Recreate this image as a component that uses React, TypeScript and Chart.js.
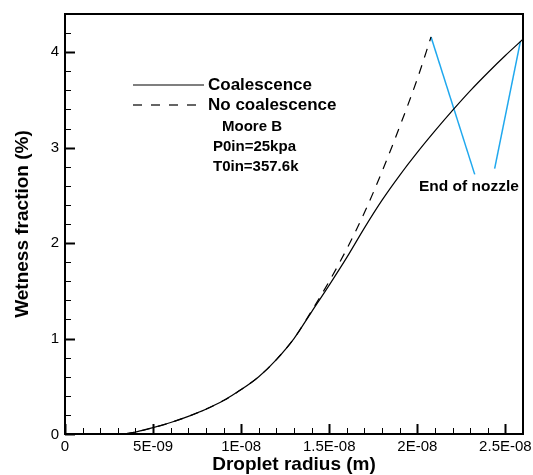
import React, { useEffect, useRef } from "react";
import { Chart, registerables } from "chart.js";

Chart.register(...registerables);

// Data (x: droplet radius in m, y: wetness fraction in %)
const coalRadius = [3.4e-9, 4e-9, 5e-9, 6e-9, 7e-9, 8e-9, 9e-9, 10e-9, 11e-9, 12e-9, 13e-9, 14e-9, 15e-9, 16e-9, 17e-9, 18e-9, 19e-9, 20e-9, 21e-9, 22e-9, 23e-9, 24e-9, 25e-9, 26e-9];
const coalWetness = [0, 0.02, 0.066, 0.12, 0.185, 0.26, 0.35, 0.465, 0.6, 0.78, 1.0, 1.28, 1.56, 1.85, 2.16, 2.45, 2.71, 2.95, 3.175, 3.39, 3.595, 3.785, 3.965, 4.135];

const noCoalRadius = [3.4e-9, 4e-9, 5e-9, 6e-9, 7e-9, 8e-9, 9e-9, 10e-9, 11e-9, 12e-9, 13e-9, 14e-9, 15e-9, 16e-9, 17e-9, 18e-9, 19e-9, 20e-9, 20.78e-9];
const noCoalWetness = [0, 0.02, 0.066, 0.12, 0.185, 0.26, 0.35, 0.465, 0.6, 0.78, 1.0, 1.29, 1.6, 1.94, 2.32, 2.75, 3.22, 3.72, 4.16];

const arrowARadius = [20.78e-9, 23.26e-9];
const arrowAWetness = [4.16, 2.72];
const arrowBRadius = [24.39e-9, 25.85e-9];
const arrowBWetness = [2.78, 4.11];

const xMajorTicks = [0, 5e-9, 1e-8, 1.5e-8, 2e-8, 2.5e-8];
const xTickLabels = ["0", "5E-09", "1E-08", "1.5E-08", "2E-08", "2.5E-08"];
const xMinorStep = 1e-9;
const yMajorTicks = [0, 1, 2, 3, 4];
const yTickLabels = ["0", "1", "2", "3", "4"];
const yMinorStep = 0.2;

const X_MAX = 2.6e-8;
const Y_MAX = 4.4;

const toPoints = (xs: number[], ys: number[]) => xs.map((x, i) => ({ x, y: ys[i] }));

const BLUE = "#1fa8ee";

const decorPlugin = {
  id: "decor",
  afterDatasetsDraw(chart: any) {
    const { ctx, chartArea } = chart;
    const xs = chart.scales.x;
    const ys = chart.scales.y;
    const { left, right, top, bottom } = chartArea;
    ctx.save();
    // frame
    ctx.strokeStyle = "#000";
    ctx.lineWidth = 2;
    ctx.strokeRect(left, top, right - left, bottom - top);

    // x ticks (inward)
    for (let i = 0; i * xMinorStep <= X_MAX + 1e-15; i++) {
      const v = i * xMinorStep;
      const px = Math.round(xs.getPixelForValue(v)) + 0.5;
      const major = i % 5 === 0;
      ctx.lineWidth = major ? 2 : 1;
      ctx.beginPath();
      ctx.moveTo(px, bottom);
      ctx.lineTo(px, bottom - (major ? 10 : 6));
      ctx.stroke();
    }
    // y ticks
    for (let i = 0; i * yMinorStep <= Y_MAX + 1e-9; i++) {
      const v = i * yMinorStep;
      const py = Math.round(ys.getPixelForValue(v)) + 0.5;
      const major = i % 5 === 0;
      ctx.lineWidth = major ? 2 : 1;
      ctx.beginPath();
      ctx.moveTo(left, py);
      ctx.lineTo(left + (major ? 10 : 6), py);
      ctx.stroke();
    }

    // tick labels
    ctx.fillStyle = "#000";
    ctx.font = "15px 'Liberation Sans', Arial, sans-serif";
    ctx.textAlign = "center";
    ctx.textBaseline = "top";
    xMajorTicks.forEach((v, i) => {
      ctx.fillText(xTickLabels[i], xs.getPixelForValue(v), bottom + 5);
    });
    ctx.textAlign = "right";
    ctx.textBaseline = "middle";
    yMajorTicks.forEach((v, i) => {
      const py = ys.getPixelForValue(v) + (v === 0 ? 1 : 0);
      ctx.fillText(yTickLabels[i], left - 6, py);
    });

    // axis titles
    ctx.font = "bold 19px 'Liberation Sans', Arial, sans-serif";
    ctx.textAlign = "center";
    ctx.textBaseline = "middle";
    ctx.fillText("Droplet radius (m)", (left + right) / 2, 465);
    ctx.save();
    ctx.translate(23, (top + bottom) / 2);
    ctx.rotate(-Math.PI / 2);
    ctx.fillText("Wetness fraction (%)", 0, 0);
    ctx.restore();

    // legend
    ctx.lineWidth = 1.2;
    ctx.beginPath();
    ctx.moveTo(133, 85);
    ctx.lineTo(204, 85);
    ctx.stroke();
    ctx.setLineDash([9, 9]);
    ctx.beginPath();
    ctx.moveTo(133, 105);
    ctx.lineTo(204, 105);
    ctx.stroke();
    ctx.setLineDash([]);

    ctx.textAlign = "left";
    ctx.font = "bold 17px 'Liberation Sans', Arial, sans-serif";
    ctx.fillText("Coalescence", 208, 85);
    ctx.fillText("No coalescence", 208, 105);
    ctx.font = "bold 15px 'Liberation Sans', Arial, sans-serif";
    ctx.fillText("Moore B", 222, 127);
    ctx.fillText("P0in=25kpa", 213, 147);
    ctx.fillText("T0in=357.6k", 213, 167);

    ctx.font = "bold 15.5px 'Liberation Sans', Arial, sans-serif";
    ctx.fillText("End of nozzle", 419, 187);
    ctx.restore();
  },
};

export default function App() {
  const ref = useRef<HTMLCanvasElement | null>(null);
  useEffect(() => {
    document.body.style.margin = "0";
    const canvas = ref.current!;
    const chart = new Chart(canvas, {
      type: "line",
      data: {
        datasets: [
          {
            label: "Coalescence",
            data: toPoints(coalRadius, coalWetness),
            borderColor: "#000",
            borderWidth: 1.2,
            pointRadius: 0,
            cubicInterpolationMode: "monotone",
          },
          {
            label: "No coalescence",
            data: toPoints(noCoalRadius, noCoalWetness),
            borderColor: "#000",
            borderWidth: 1.2,
            borderDash: [9, 8],
            pointRadius: 0,
            cubicInterpolationMode: "monotone",
          },
          {
            label: "End of nozzle A",
            data: toPoints(arrowARadius, arrowAWetness),
            borderColor: BLUE,
            borderWidth: 1.5,
            pointRadius: 0,
          },
          {
            label: "End of nozzle B",
            data: toPoints(arrowBRadius, arrowBWetness),
            borderColor: BLUE,
            borderWidth: 1.5,
            pointRadius: 0,
          },
        ],
      },
      options: {
        responsive: false,
        animation: false,
        layout: { padding: { left: 65, top: 14, right: 10, bottom: 41 } },
        plugins: { legend: { display: false }, tooltip: { enabled: false } },
        scales: {
          x: { type: "linear", min: 0, max: X_MAX, display: false },
          y: { type: "linear", min: 0, max: Y_MAX, display: false },
        },
      },
      plugins: [decorPlugin],
    } as any);
    return () => chart.destroy();
  }, []);
  return (
    <div style={{ width: 533, height: 475, background: "#fff" }}>
      <canvas ref={ref} width={533} height={475} />
    </div>
  );
}
